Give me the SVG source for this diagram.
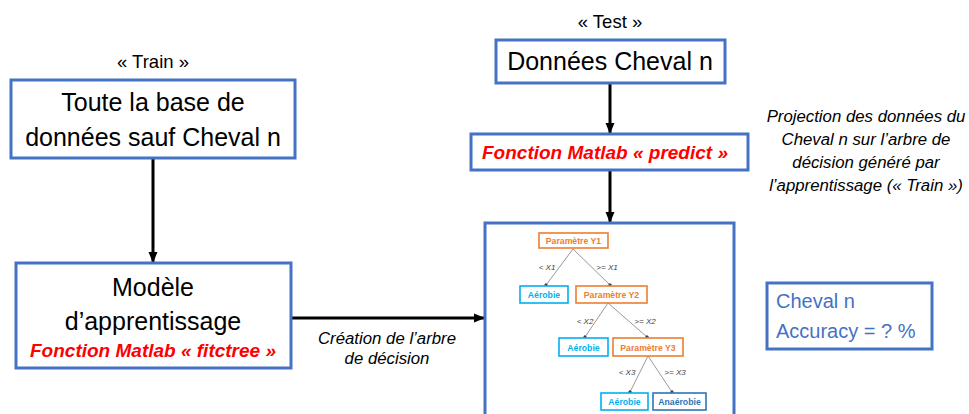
<svg xmlns="http://www.w3.org/2000/svg" width="969" height="414" viewBox="0 0 969 414">
<style>
.box{fill:#fff;stroke:#4472C4;stroke-width:3}
.t{font-family:"Liberation Sans",Arial,sans-serif;fill:#000}
.big{font-size:25px}
.lab{font-size:18.5px}
.red{font-family:"Liberation Sans",Arial,sans-serif;font-weight:bold;font-style:italic;fill:#FF0000;font-size:19px}
.it{font-family:"Liberation Sans",Arial,sans-serif;font-style:italic;font-size:16.8px;fill:#000}
.conn{stroke:#000;stroke-width:3;fill:none}
.tn{fill:#fff;stroke-width:1.6}
.or{stroke:#ED7D31}
.cy{stroke:#00B0F0}
.db{stroke:#2E75B6}
.tt{font-family:"Liberation Sans",Arial,sans-serif;font-weight:bold;font-size:8.7px}
.te{stroke:#8C8C8C;stroke-width:0.9;fill:none}
.tl{font-family:"Liberation Sans",Arial,sans-serif;font-style:italic;font-size:8px;fill:#404040}
.acc{font-family:"Liberation Sans",Arial,sans-serif;font-size:20px;fill:#4472C4}
</style>
<defs>
<marker id="ah" markerUnits="userSpaceOnUse" markerWidth="12" markerHeight="12" viewBox="0 0 12 12" refX="11" refY="6" orient="auto">
<path d="M0,1.5 L11,6 L0,10.5 Z" fill="#000"/>
</marker>
<marker id="dot" markerUnits="userSpaceOnUse" markerWidth="4" markerHeight="4" viewBox="0 0 4 4" refX="2" refY="2" orient="auto">
<circle cx="2" cy="2" r="1.6" fill="#404040"/>
</marker>
</defs>
<rect width="969" height="414" fill="#fff"/>

<g id="connectors">
<line class="conn" x1="153" y1="158" x2="153" y2="263" marker-end="url(#ah)"/>
<line class="conn" x1="610" y1="83" x2="610" y2="134" marker-end="url(#ah)"/>
<line class="conn" x1="610" y1="170" x2="610" y2="223" marker-end="url(#ah)"/>
<line class="conn" x1="291" y1="318" x2="485" y2="318" marker-end="url(#ah)"/>
<g class="it" text-anchor="middle">
<text x="387" y="344">Création de l’arbre</text>
<text x="387" y="364">de décision</text>
</g>
</g>

<g id="train">
<text class="t lab" x="153" y="68" text-anchor="middle">« Train »</text>
<rect class="box" x="11" y="80" width="284" height="78"/>
<text class="t big" x="153" y="111" text-anchor="middle">Toute la base de</text>
<text class="t big" x="153" y="146" text-anchor="middle">données sauf Cheval n</text>
</g>

<g id="modele">
<rect class="box" x="16" y="263" width="275" height="105"/>
<text class="t big" x="153" y="296" text-anchor="middle">Modèle</text>
<text class="t big" x="153" y="330" text-anchor="middle">d’apprentissage</text>
<text class="red" x="153" y="357" text-anchor="middle">Fonction Matlab « fitctree »</text>
</g>

<g id="test">
<text class="t lab" x="610" y="28" text-anchor="middle">« Test »</text>
<rect class="box" x="496" y="40" width="229" height="43"/>
<text class="t big" x="610" y="70" text-anchor="middle">Données Cheval n</text>
</g>

<g id="predict">
<rect class="box" x="471" y="134" width="277" height="36"/>
<text class="red" x="605" y="159" text-anchor="middle">Fonction Matlab « predict »</text>
</g>

<g id="projection" class="it" text-anchor="middle">
<text x="866" y="122">Projection des données du</text>
<text x="866" y="145">Cheval n sur l’arbre de</text>
<text x="866" y="168">décision généré par</text>
<text x="866" y="191">l’apprentissage (« Train »)</text>
</g>

<g id="arbre">
<rect class="box" x="485" y="223" width="249" height="200"/>
<g class="te">
<line x1="573" y1="249" x2="546" y2="285" marker-end="url(#dot)"/>
<line x1="573" y1="249" x2="610" y2="285" marker-end="url(#dot)"/>
<line x1="608" y1="303" x2="585" y2="337" marker-end="url(#dot)"/>
<line x1="608" y1="303" x2="647" y2="337" marker-end="url(#dot)"/>
<line x1="648" y1="356" x2="630" y2="392" marker-end="url(#dot)"/>
<line x1="648" y1="356" x2="672" y2="392" marker-end="url(#dot)"/>
</g>
<g class="tl" text-anchor="middle">
<text x="547" y="270">&lt; X1</text>
<text x="607" y="270">&gt;= X1</text>
<text x="585" y="324">&lt; X2</text>
<text x="645" y="324">&gt;= X2</text>
<text x="627" y="375">&lt; X3</text>
<text x="675" y="375">&gt;= X3</text>
</g>
<rect class="tn or" x="539" y="233" width="69" height="15"/>
<text class="tt" x="573.5" y="244" fill="#ED7D31" text-anchor="middle">Paramètre Y1</text>
<rect class="tn cy" x="520" y="286" width="48" height="17"/>
<text class="tt" x="544" y="298" fill="#00B0F0" text-anchor="middle">Aérobie</text>
<rect class="tn or" x="576" y="286" width="71" height="17"/>
<text class="tt" x="611.5" y="298" fill="#ED7D31" text-anchor="middle">Paramètre Y2</text>
<rect class="tn cy" x="559" y="338" width="49" height="18"/>
<text class="tt" x="583.5" y="350.5" fill="#00B0F0" text-anchor="middle">Aérobie</text>
<rect class="tn or" x="613" y="338" width="70" height="18"/>
<text class="tt" x="648" y="350.5" fill="#ED7D31" text-anchor="middle">Paramètre Y3</text>
<rect class="tn cy" x="601" y="393" width="47" height="17"/>
<text class="tt" x="624.5" y="405" fill="#00B0F0" text-anchor="middle">Aérobie</text>
<rect class="tn db" x="653" y="393" width="53" height="17"/>
<text class="tt" x="679.5" y="405" fill="#2E75B6" text-anchor="middle">Anaérobie</text>
</g>

<g id="accuracy">
<rect class="box" x="767" y="283" width="165" height="66"/>
<text class="acc" x="776" y="308">Cheval n</text>
<text class="acc" x="776" y="338">Accuracy = ? %</text>
</g>
</svg>
